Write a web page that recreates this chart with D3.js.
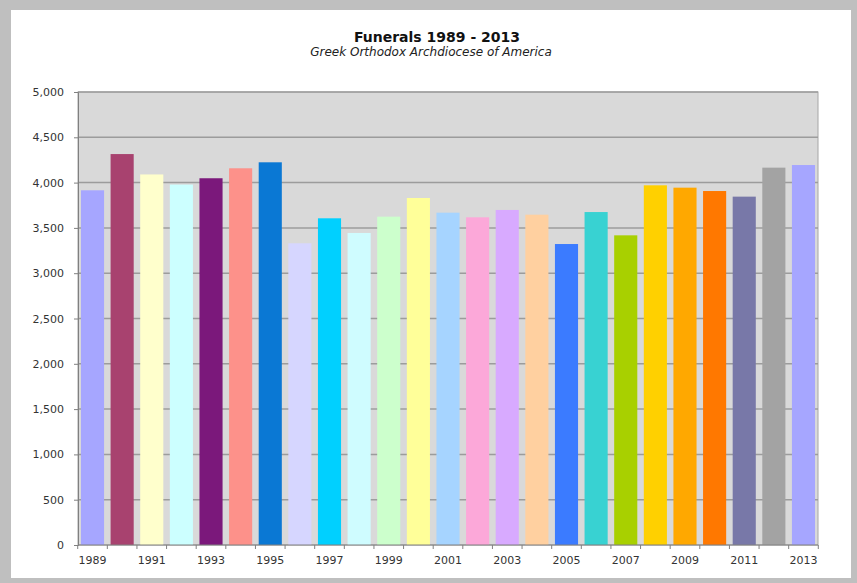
<!DOCTYPE html>
<html><head><meta charset="utf-8">
<script src="https://cdn.jsdelivr.net/npm/d3@7"></script>
<style>html,body{margin:0;padding:0;background:#bfbfbf;}svg{display:block;}</style>
</head><body>
<svg id="chart" width="857" height="583"></svg>
<script>
const years = ["1989","1990","1991","1992","1993","1994","1995","1996","1997","1998","1999","2000","2001","2002","2003","2004","2005","2006","2007","2008","2009","2010","2011","2012","2013"];
const funerals = [3915,4315,4090,3978,4048,4158,4224,3330,3606,3444,3624,3830,3668,3617,3698,3646,3322,3675,3418,3970,3944,3907,3845,4165,4194];
const barColors = ["#a6a6ff","#a8426f","#ffffcc","#ccffff","#7b187b","#fd918a","#0a78d4","#d6d6ff","#00d0ff","#cffcff","#ccffcc","#ffff99","#a6d4ff","#fca8d9","#d8aaff","#ffd0a0","#3b7bff","#38d2d2","#a8d000","#ffd000","#ffa800","#ff7800","#7878a8","#a3a3a3","#a6a6ff"];
const yTicks = [0,500,1000,1500,2000,2500,3000,3500,4000,4500,5000];
const xLabels = ["1989","1991","1993","1995","1997","1999","2001","2003","2005","2007","2009","2011","2013"];

const svg = d3.select("#chart");
svg.append("rect").attr("x",11).attr("y",10).attr("width",840).attr("height",568).attr("fill","#ffffff");

const L=78, R=818, T=92, B=545;
const x = d3.scaleBand().domain(years).range([L,R]).paddingInner(0.22).paddingOuter(0.1);
const y = d3.scaleLinear().domain([0,5000]).range([B,T]);

svg.append("rect").attr("x",L).attr("y",T).attr("width",R-L).attr("height",B-T)
  .attr("fill","#d9d9d9").attr("stroke","#a6a6a6").attr("stroke-width",1);

svg.append("g").selectAll("line").data(yTicks.filter(d=>d>0)).join("line")
  .attr("x1",L).attr("x2",R).attr("y1",d=>y(d)).attr("y2",d=>y(d))
  .attr("stroke","#9c9c9c").attr("stroke-width",1.5);

svg.append("g").selectAll("rect").data(years).join("rect")
  .attr("x",d=>x(d)).attr("width",x.bandwidth())
  .attr("y",(d,i)=>y(funerals[i])).attr("height",(d,i)=>B-y(funerals[i]))
  .attr("fill",(d,i)=>barColors[i]);

const font = "Verdana, 'DejaVu Sans', sans-serif";
const yAxis = d3.axisLeft(y).tickValues(yTicks).tickFormat(d3.format(",")).tickSize(4).tickPadding(10);
const gy = svg.append("g").attr("transform",`translate(${L},0)`).call(yAxis);
gy.select(".domain").attr("stroke","#808080");
gy.selectAll(".tick line").attr("stroke","#808080");
gy.selectAll("text").attr("font-family",font).attr("font-size",11).attr("fill","#333");

const step = x.step();
const tickPos = d3.range(years.length+1).map(i=>L + x.paddingOuter()*step - x.paddingInner()*step/2 + i*step);
svg.append("line").attr("x1",L).attr("x2",R).attr("y1",B).attr("y2",B).attr("stroke","#808080");
svg.append("g").selectAll("line").data(tickPos).join("line")
  .attr("x1",d=>d).attr("x2",d=>d).attr("y1",B).attr("y2",B+4).attr("stroke","#808080");
svg.append("g").selectAll("text").data(xLabels).join("text")
  .attr("x",d=>x(d)+x.bandwidth()/2).attr("y",564).attr("text-anchor","middle")
  .attr("font-family",font).attr("font-size",11).attr("fill","#333").text(d=>d);

svg.append("text").attr("x",437).attr("y",42).attr("text-anchor","middle")
  .attr("font-family",font).attr("font-size",14).attr("font-weight","bold").attr("fill","#111")
  .text("Funerals 1989 - 2013");
svg.append("text").attr("x",431).attr("y",56).attr("text-anchor","middle")
  .attr("font-family",font).attr("font-size",12).attr("font-style","italic").attr("fill","#222")
  .text("Greek Orthodox Archdiocese of America");
</script>
</body></html>
